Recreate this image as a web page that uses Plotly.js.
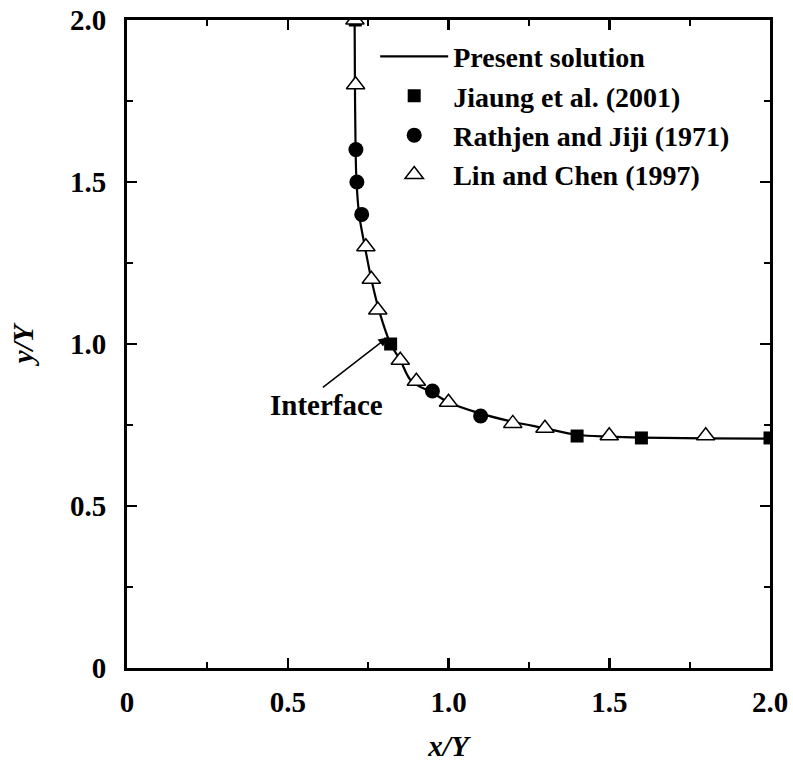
<!DOCTYPE html>
<html>
<head>
<meta charset="utf-8">
<script src="https://cdn.plot.ly/plotly-3.0.1.min.js"></script>
<style>html,body{margin:0;padding:0;background:#fff;}#chart{width:793px;height:766px;}</style>
</head>
<body>
<div id="chart"></div>
<script>
// Present solution (interface curve)
const solX = [0.708, 0.709, 0.711, 0.714, 0.722, 0.74, 0.76, 0.785, 0.82, 0.85, 0.885, 0.95, 1.0, 1.1, 1.2, 1.3, 1.4, 1.5, 1.6, 1.8, 2.0];
const solY = [2.0, 1.8, 1.6, 1.5, 1.4, 1.3, 1.2, 1.1, 1.0, 0.95, 0.885, 0.85, 0.82, 0.785, 0.76, 0.74, 0.72, 0.714, 0.711, 0.709, 0.708];
// Jiaung et al. (2001)
const jiaungX = [0.71, 0.82, 1.4, 1.6, 2.0];
const jiaungY = [2.0, 1.0, 0.716, 0.71, 0.71];
// Rathjen and Jiji (1971)
const rathjenX = [0.712, 0.715, 0.73, 0.95, 1.1];
const rathjenY = [1.6, 1.5, 1.4, 0.855, 0.778];
// Lin and Chen (1997)
const linX = [0.709, 0.711, 0.743, 0.76, 0.78, 0.85, 0.9, 1.0, 1.2, 1.3, 1.5, 1.8];
const linY = [2.0, 1.8, 1.3, 1.2, 1.105, 0.95, 0.885, 0.82, 0.755, 0.74, 0.717, 0.717];

const tickVals = [0, 0.5, 1.0, 1.5, 2.0];
const tickText = ['0', '0.5', '1.0', '1.5', '2.0'];

const FONT = 'Liberation Serif';
const FS = 29;

const traces = [
  {x: solX, y: solY, mode: 'lines', name: 'Present solution', line: {color: '#000', width: 2.2, shape: 'spline'}},
  {x: jiaungX, y: jiaungY, mode: 'markers', name: 'Jiaung et al. (2001)', marker: {symbol: 'square', size: 13, color: '#000'}},
  {x: rathjenX, y: rathjenY, mode: 'markers', name: 'Rathjen and Jiji (1971)', marker: {symbol: 'circle', size: 15, color: '#000'}},
  {x: linX, y: linY, mode: 'markers', name: 'Lin and Chen (1997)', marker: {symbol: 'triangle-up', size: 16, color: '#fff', line: {color: '#000', width: 1.5}}}
];

const axisCommon = {
  range: [0, 2],
  tickvals: tickVals,
  ticktext: tickText,
  ticks: 'inside',
  ticklen: 10,
  tickwidth: 2.5,
  tickcolor: '#000',
  minor: {dtick: 0.25, ticks: 'inside', ticklen: 6, tickwidth: 2, tickcolor: '#000'},
  showline: true,
  linewidth: 3,
  linecolor: '#000',
  mirror: 'allticks',
  showgrid: false,
  zeroline: false,
  tickfont: {family: FONT, size: FS, color: '#000', weight: 'bold'}
};

const layout = {
  width: 793,
  height: 766,
  margin: {l: 127, r: 23, t: 20, b: 98},
  paper_bgcolor: '#fff',
  plot_bgcolor: '#fff',
  font: {family: FONT, color: '#000'},
  xaxis: Object.assign({}, axisCommon, {
    ticklabelstandoff: 6,
    title: {text: 'x/Y', font: {family: FONT, size: FS, color: '#000', weight: 'bold', style: 'italic'}, standoff: 19}
  }),
  yaxis: Object.assign({}, axisCommon, {
    ticklabelstandoff: 12,
    title: {text: 'y/Y', font: {family: FONT, size: FS, color: '#000', weight: 'bold', style: 'italic'}, standoff: 28}
  }),
  legend: {
    x: 0.386, y: 0.982, xanchor: 'left', yanchor: 'top',
    bgcolor: 'rgba(0,0,0,0)',
    itemwidth: 68,
    tracegroupgap: 0,
    font: {family: FONT, size: 28, color: '#000', weight: 'bold'}
  },
  annotations: [
    {
      x: 0.81, y: 1.02, xref: 'x', yref: 'y',
      ax: -66, ay: 51, axref: 'pixel', ayref: 'pixel',
      text: '', showarrow: true,
      arrowhead: 2, arrowsize: 1.2, arrowwidth: 1.5, arrowcolor: '#000'
    },
    {
      x: 0.622, y: 0.812, xref: 'x', yref: 'y',
      text: 'Interface', showarrow: false,
      font: {family: FONT, size: FS, color: '#000', weight: 'bold'}
    }
  ],
  showlegend: true
};

Plotly.newPlot('chart', traces, layout, {displayModeBar: false, staticPlot: true});
</script>
</body>
</html>
